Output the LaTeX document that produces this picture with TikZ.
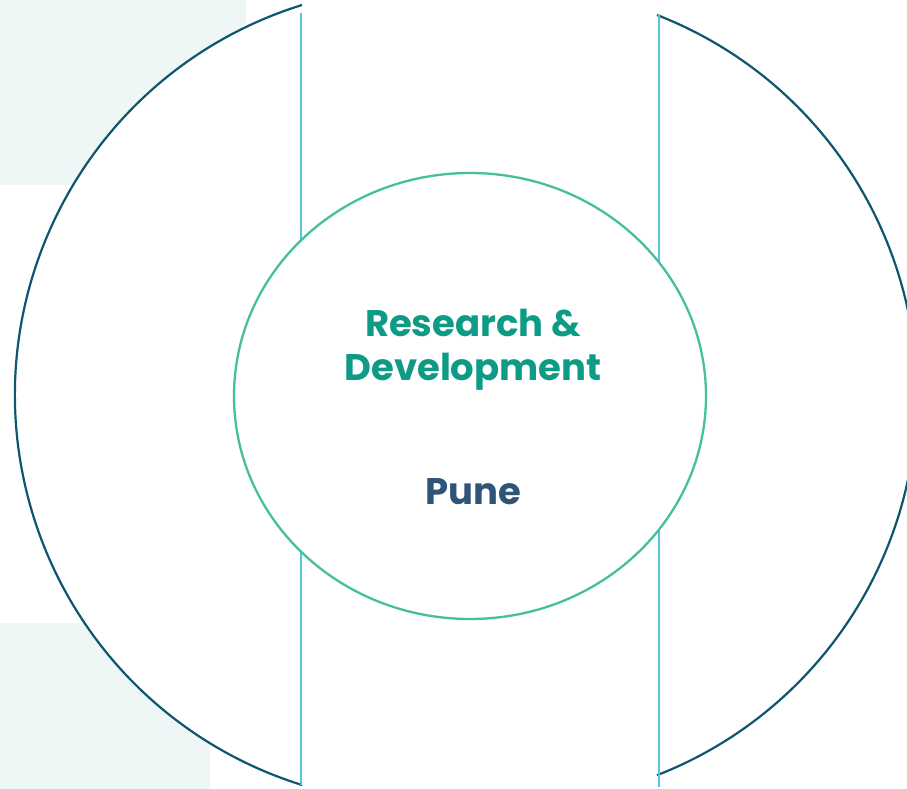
\documentclass[tikz,border=0pt]{standalone}
\usepackage{fontspec}
\usepackage{tikz}
\usetikzlibrary{shapes.geometric}
\newfontfamily\labelfont{Poppins}

\definecolor{bgtint}{HTML}{EEF7F6}
\definecolor{ringblue}{HTML}{0E5670}
\definecolor{guideblue}{HTML}{5BC0E6}
\definecolor{hubgreen}{HTML}{45BF9D}
\definecolor{titleteal}{HTML}{0D9B86}
\definecolor{cityblue}{HTML}{2E5478}

\begin{document}
\begin{tikzpicture}[x=1pt,y=1pt,
    ring/.style={draw=ringblue,line width=2.2pt},
    guide/.style={draw=guideblue,line width=1.3pt},
    hub/.style={ellipse,draw=hubgreen,line width=2.3pt,fill=white,inner sep=0pt,
      minimum width=472pt,minimum height=446pt},
    label/.style={font=\labelfont\bfseries\fontsize{37}{44}\selectfont,inner sep=0pt,anchor=base}]

      \clip (0,0) rectangle (907,789);
      \fill[white] (0,0) rectangle (907,789);

      % faint panels behind the ring
      \fill[bgtint] (0,604) rectangle (246,789);
      \fill[bgtint] (0,0) rectangle (210,166);

      \coordinate (lc) at (423.5,394);
      \coordinate (rc) at (508.7,394);
      \coordinate (lt) at (301,776);
      \coordinate (lb) at (301,4);
      \coordinate (rt) at (659,775);
      \coordinate (rb) at (659,2);

      \fill[white] (302,784) arc[start angle=107.3,end angle=252.7,radius=408.5pt] -- cycle;
      \path[ring] (302,784) arc[start angle=107.3,end angle=252.7,radius=408.5pt];
      \path[ring] (657,774) arc[start angle=68.7,end angle=-68.7,radius=408pt];

      \path[guide] (lt) -- (lb);
      \path[guide] (rt) -- (rb);

      \node[hub] (hub) at (470,393) {};

      \begin{scope}[every node/.style={label}]
        \node[text=titleteal] (rd1) at (473,452) {Research \&};
        \node[text=titleteal] (rd2) at (473,408) {Development};
        \node[text=cityblue] (city) at (473.5,284) {Pune};
      \end{scope}
    \end{tikzpicture}
\end{document}
